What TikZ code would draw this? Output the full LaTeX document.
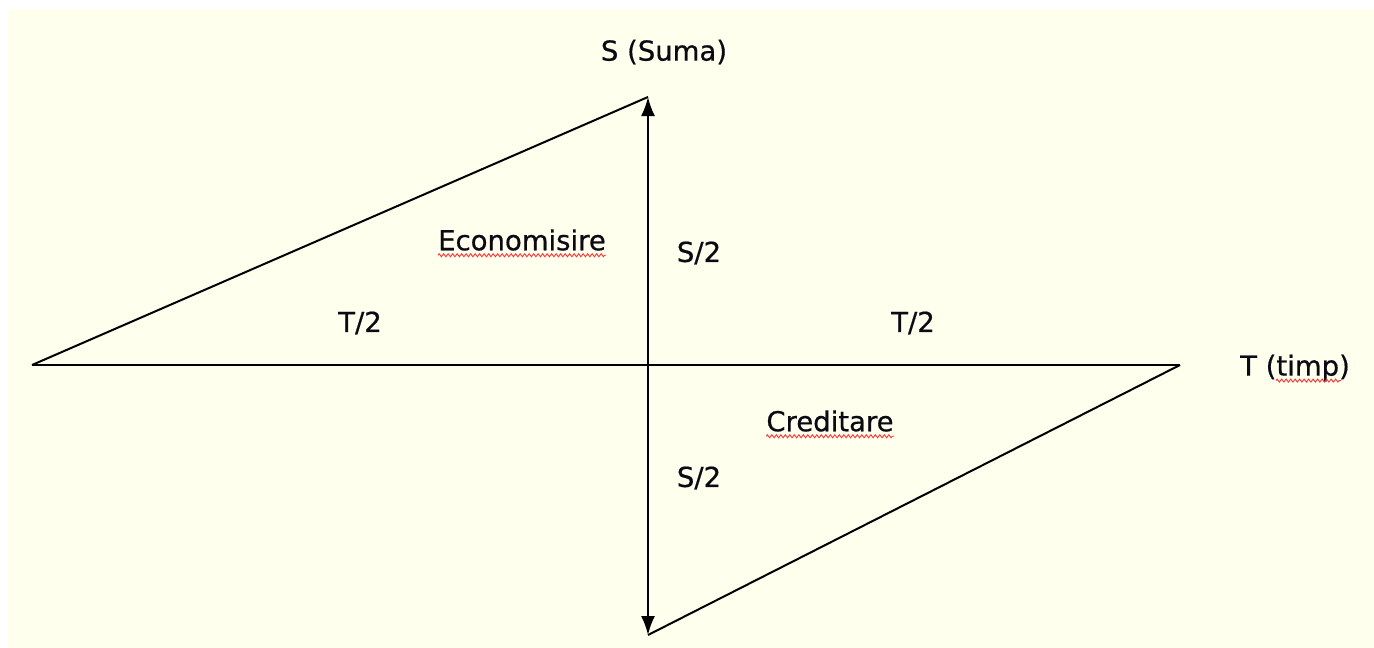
\documentclass[tikz,border=0pt]{standalone}
\usepackage{xcolor}
\usepackage{fontspec}
\setmainfont{DejaVu Sans}
\usepackage{tikz}
\usetikzlibrary{arrows.meta,positioning,calc,decorations.pathmorphing}
\definecolor{fondgalben}{RGB}{255,255,238}
\definecolor{textinchis}{RGB}{10,10,20}

\begin{document}
\begin{tikzpicture}[
  x=1pt, y=-1pt,
  lbl/.style={inner sep=0pt, text=textinchis, font=\fontsize{27.5}{32}\selectfont\addfontfeature{FakeBold=0.6}},
  linie/.style={line width=2pt, black},
  sageata/.style={{Latex[length=19pt,width=14pt]}-{Latex[length=19pt,width=14pt]}, line width=2pt, black},
  val/.style={red!80, line width=0.9pt, decorate, decoration={zigzag, segment length=4.5pt, amplitude=1.5pt}},
]
  \useasboundingbox (0,0) rectangle (1374,648);
  \fill[fondgalben] (7,9) rectangle (1374,648);

  % varfurile celor doua triunghiuri
  \coordinate (stanga) at (32,365);
  \coordinate (varf) at (648,97);
  \coordinate (baza) at (648,635);
  \coordinate (dreapta) at (1180,365);

  \draw[linie] (stanga) -- (varf);
  \draw[linie] (stanga) -- (dreapta);
  \draw[linie] (dreapta) -- (baza);
  \draw[sageata] (baza) -- (varf);

  % etichete
  \node[lbl] (suma) at (664,52) {S (Suma)};
  \node[lbl] (econ) at (522,240) {Economisire};
  \node[lbl] (s2sus) at (699,253) {S/2};
  \node[lbl] (t2stanga) at (360,323) {T/2};
  \node[lbl] (t2dreapta) at (913,323) {T/2};
  \node[lbl, anchor=west] (timp) at (1240,368) {T (timp)};
  \node[lbl] (cred) at (830,421) {Creditare};
  \node[lbl] (s2jos) at (699,478) {S/2};

  % sublinieri ondulate
  \draw[val] ([yshift=-5pt]econ.base west) -- ([yshift=-5pt]econ.base east);
  \draw[val] ([yshift=-5pt]cred.base west) -- ([yshift=-5pt]cred.base east);
  \draw[val] ([xshift=36pt,yshift=-5pt]timp.base west) -- ([xshift=101pt,yshift=-5pt]timp.base west);
\end{tikzpicture}
\end{document}
